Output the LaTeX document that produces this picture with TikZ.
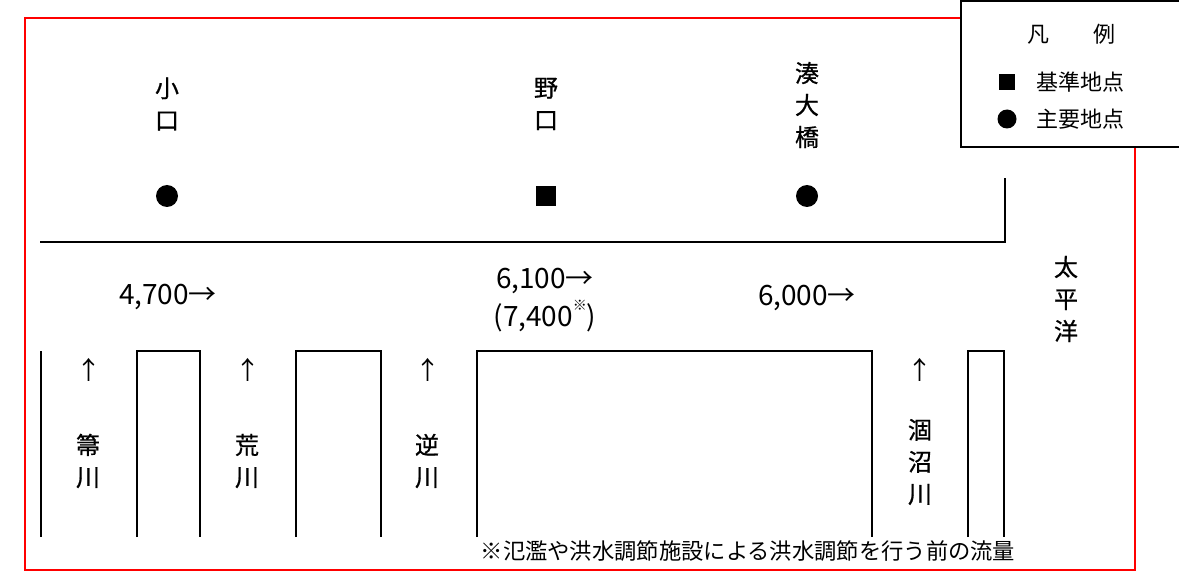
\documentclass[tikz,border=0pt]{standalone}
\usepackage{fontspec}
\setmainfont{Noto Sans CJK JP}
\newfontfamily\gothicb[FakeBold=0.7]{Noto Sans CJK JP}
\begin{document}
\begin{tikzpicture}[x=1pt,y=-1pt,
  frame/.style={draw=red, line width=1.8pt},
  wall/.style={draw=black, line width=2pt},
  lbl/.style={inner sep=0pt, font=\gothicb\fontsize{24}{32}\selectfont, align=center},
  arr/.style={inner sep=0pt, font=\fontsize{25}{30}\selectfont},
  num/.style={inner sep=0pt, font=\fontsize{28}{35}\selectfont},
  note/.style={inner sep=0pt, font=\fontsize{22.3}{26}\selectfont},
  legtxt/.style={inner sep=0pt, font=\fontsize{22}{26}\selectfont},
  dotmark/.style={circle, fill=black, inner sep=0pt, minimum size=#1},
  sqmark/.style={rectangle, fill=black, inner sep=0pt, minimum size=#1}]
\useasboundingbox (0,0) rectangle (1179,575);
% red frame
\draw[frame] (25,18) rectangle (1135,570);
% upper bank
\draw[wall] (40,242) -- (1005,242) -- (1005,178);
% lower banks
\draw[wall] (41,351) -- (41,537);
\draw[wall] (137,537) -- (137,351) -- (200,351) -- (200,537);
\draw[wall] (296,537) -- (296,351) -- (381,351) -- (381,537);
\draw[wall] (477,537) -- (477,351) -- (872,351) -- (872,537);
\draw[wall] (968,537) -- (968,351) -- (1004,351) -- (1004,537);
% stations
\node[lbl] (oguchi) at (167,104) {小\\口};
\node[lbl] (noguchi) at (546,104) {野\\口};
\node[lbl] (minato) at (807,105) {湊\\大\\橋};
\node[dotmark=22pt] (m1) at (167,196) {};
\node[sqmark=20pt] (m2) at (546,196) {};
\node[dotmark=22pt] (m3) at (807,196) {};
% flows
\node[num] (q1) at (168,297) {4,700→};
\node[num] (q2) at (545,281) {6,100→};
\node[num] (q2b) at (545,316) {(7,400\raisebox{0.55em}{\fontsize{14}{14}\selectfont ※})};
\node[num] (q3) at (807,298) {6,000→};
% ocean
\node[lbl] (ocean) at (1066,299) {太\\平\\洋};
% tributaries
\node[arr] (a1) at (89,370) {↑};
\node[arr] (a2) at (248,370) {↑};
\node[arr] (a3) at (428,370) {↑};
\node[arr] (a4) at (920,370) {↑};
\node[lbl] (r1) at (88,461) {箒\\川};
\node[lbl] (r2) at (247,461) {荒\\川};
\node[lbl] (r3) at (427,461) {逆\\川};
\node[lbl] (r4) at (920,462) {涸\\沼\\川};
% footnote
\node[note] (fn) at (748,551) {※氾濫や洪水調節施設による洪水調節を行う前の流量};
% legend
\draw[wall, fill=white] (961,1) rectangle (1190,147);
\node[legtxt] (legt) at (1071,34) {凡　　例};
\node[sqmark=16pt] (lsq) at (1007,82) {};
\node[dotmark=19pt] (ldot) at (1007,119) {};
\node[legtxt, anchor=west] (l1) at (1036,82) {基準地点};
\node[legtxt, anchor=west] (l2) at (1036,119) {主要地点};
\end{tikzpicture}
\end{document}
